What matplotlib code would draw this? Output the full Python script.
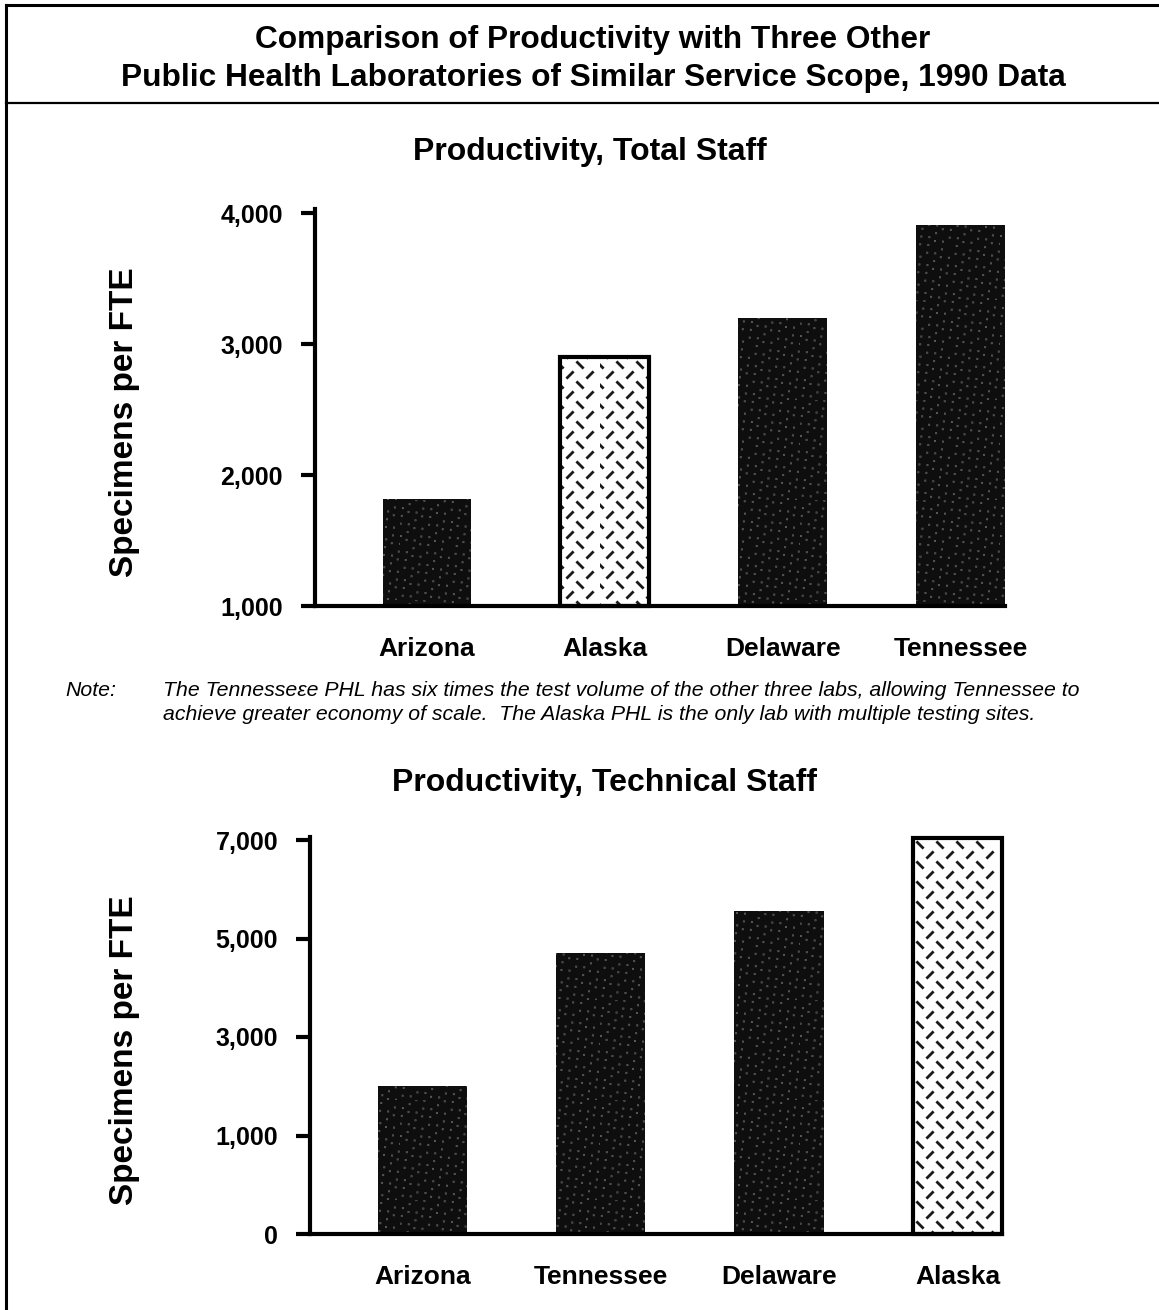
import numpy as np
import matplotlib
matplotlib.use("Agg")
import matplotlib.pyplot as plt
import matplotlib.hatch as mhatch
from matplotlib.path import Path
from matplotlib.lines import Line2D

plt.rcParams['font.family'] = ['Liberation Sans', 'DejaVu Sans']
plt.rcParams['hatch.linewidth'] = 1.2

# ---------------- data ----------------
title_lines = ["Comparison of Productivity with Three Other",
               "Public Health Laboratories of Similar Service Scope, 1990 Data"]

top_title = "Productivity, Total Staff"
top_states = ["Arizona", "Alaska", "Delaware", "Tennessee"]
top_values = [1820, 2900, 3200, 3910]
top_ticks = [1000, 2000, 3000, 4000]
top_ticklabels = ["1,000", "2,000", "3,000", "4,000"]

bot_title = "Productivity, Technical Staff"
bot_states = ["Arizona", "Tennessee", "Delaware", "Alaska"]
bot_values = [2000, 4700, 5550, 7050]
bot_ticks = [0, 1000, 3000, 5000, 7000]
bot_ticklabels = ["0", "1,000", "3,000", "5,000", "7,000"]

ylabel = "Specimens per FTE"
note_label = "Note:"
note_lines = ["The Tennesse\u03b5e PHL has six times the test volume of the other three labs, allowing Tennessee to",
              "achieve greater economy of scale.  The Alaska PHL is the only lab with multiple testing sites."]


# ---------------- custom hatch textures ----------------
class DashHatch(mhatch.HatchPatternBase):
    """Rows of short alternating '/' and '\\' dashes (triggered by 'O')."""
    ncol, nrow, half, thick = 5, 10, 0.03, 0.004

    def __init__(self, hatch, density):
        self.on = hatch.count('O') > 0
        self.num_vertices = self.ncol * self.nrow * 5 if self.on else 0

    def set_vertices_and_codes(self, vertices, codes):
        k = 0
        for r in range(self.nrow):
            cy = (r + 0.5) / self.nrow
            sgn = 1 if r % 2 == 0 else -1
            off = 0.0 if r % 2 == 0 else 0.5 / self.ncol
            for c in range(self.ncol):
                cx = ((c + 0.5) / self.ncol + off) % 1.0
                p0 = (cx - self.half, cy - sgn * self.half)
                p1 = (cx + self.half, cy + sgn * self.half)
                t = self.thick
                quad = [(p0[0] - t, p0[1] + sgn * t), (p1[0] - t, p1[1] + sgn * t),
                        (p1[0] + t, p1[1] - sgn * t), (p0[0] + t, p0[1] - sgn * t),
                        (p0[0] - t, p0[1] + sgn * t)]
                vertices[k:k + 5] = quad
                codes[k] = Path.MOVETO
                codes[k + 1:k + 4] = Path.LINETO
                codes[k + 4] = Path.CLOSEPOLY
                k += 5


class SpeckleHatch(mhatch.HatchPatternBase):
    """Fine quasi-uniform speckles (triggered by 'o')."""
    ndots, size = 150, 0.0015

    def __init__(self, hatch, density):
        self.on = hatch.count('o') > 0
        self.num_vertices = self.ndots * 5 if self.on else 0

    def set_vertices_and_codes(self, vertices, codes):
        n = np.arange(1, self.ndots + 1)
        xs = (0.5 + n * 0.7548776662466927) % 1.0
        ys = (0.5 + n * 0.5698402909980532) % 1.0
        s = self.size
        for i, (x, y) in enumerate(zip(xs, ys)):
            k = i * 5
            vertices[k:k + 5] = [(x - s, y - s), (x + s, y - s), (x + s, y + s),
                                 (x - s, y + s), (x - s, y - s)]
            codes[k] = Path.MOVETO
            codes[k + 1:k + 4] = Path.LINETO
            codes[k + 4] = Path.CLOSEPOLY


mhatch._hatch_types = [t for t in mhatch._hatch_types
                       if t not in (mhatch.SmallCircles, mhatch.LargeCircles)] + [DashHatch, SpeckleHatch]

# ---------------- figure ----------------
W, H = 1159, 1310
fig = plt.figure(figsize=(W / 100, H / 100), dpi=100)


def fx(px):
    return px / W


def fy(py):
    return 1 - py / H


fig.add_artist(Line2D([fx(6), fx(6)], [fy(5), 0], color='black', lw=2.2, transform=fig.transFigure))
fig.add_artist(Line2D([fx(6), 1], [fy(5), fy(5)], color='black', lw=2.2, transform=fig.transFigure))
fig.add_artist(Line2D([fx(6), 1], [fy(103), fy(103)], color='black', lw=1.6, transform=fig.transFigure))

fig.text(fx(593), fy(40), title_lines[0], ha='center', va='center', fontsize=22.8, fontweight='bold')
fig.text(fx(593), fy(78), title_lines[1], ha='center', va='center', fontsize=22.8, fontweight='bold')


def draw_panel(ax, states, values, ticks, ticklabels, base):
    x = np.arange(len(states))
    for i, (s, v) in enumerate(zip(states, values)):
        if s == "Alaska":
            ax.bar(x[i], v - base, bottom=base, width=0.5, facecolor='white',
                   edgecolor='#1a1a1a', linewidth=0, hatch='O', zorder=2, clip_on=False)
            ax.bar(x[i], v - base, bottom=base, width=0.5, facecolor='none',
                   edgecolor='black', linewidth=3, zorder=2.5, clip_on=False)
        else:
            ax.bar(x[i], v - base, bottom=base, width=0.5, facecolor='#0e0e0e',
                   edgecolor='#666666', linewidth=0, hatch='o', zorder=2, clip_on=False)
    ax.set_xticks(x)
    ax.set_xticklabels(states, fontsize=19, fontweight='bold')
    ax.tick_params(axis='x', length=0, pad=22)
    ax.set_yticks(ticks)
    ax.set_yticklabels(ticklabels, fontsize=18, fontweight='bold')
    ax.tick_params(axis='y', length=10, width=3, direction='out', pad=13)
    ax.spines['top'].set_visible(False)
    ax.spines['right'].set_visible(False)
    ax.spines['left'].set_linewidth(3)
    ax.spines['bottom'].set_linewidth(3)
    ax.spines['bottom'].set_zorder(3)
    ax.set_xlim(-0.63, 3.25)


# top panel (spine runs slightly above the 4,000 tick)
ax1 = fig.add_axes([fx(315), fy(606), fx(1005 - 315), (606 - 209) / H])
ax1.set_ylim(1000, 1000 + 3000 * (606 - 209) / (606 - 213))
draw_panel(ax1, top_states, top_values, top_ticks, top_ticklabels, 1000)
fig.text(fx(590), fy(152), top_title, ha='center', va='center', fontsize=23, fontweight='bold')
fig.text(fx(125), fy(422), ylabel, ha='center', va='center', rotation=90, fontsize=24, fontweight='bold')

# note
fig.text(fx(65), fy(690), note_label, ha='left', va='center', fontsize=15.3, style='italic')
fig.text(fx(163), fy(690), note_lines[0], ha='left', va='center', fontsize=15.3, style='italic')
fig.text(fx(163), fy(715), note_lines[1], ha='left', va='center', fontsize=15.3, style='italic')

# bottom panel: the tick labels are placed at even spacing
nodes = np.array(bot_ticks, dtype=float)
pos = np.arange(len(bot_ticks), dtype=float)


def fwd(v):
    v = np.asarray(v, dtype=float)
    return np.where(v < nodes[0], (v - nodes[0]) / (nodes[1] - nodes[0]),
                    np.where(v > nodes[-1], pos[-1] + (v - nodes[-1]) / (nodes[-1] - nodes[-2]),
                             np.interp(v, nodes, pos)))


def inv(p):
    p = np.asarray(p, dtype=float)
    return np.where(p < 0, p * (nodes[1] - nodes[0]),
                    np.where(p > pos[-1], nodes[-1] + (p - pos[-1]) * (nodes[-1] - nodes[-2]),
                             np.interp(p, pos, nodes)))


ax2 = fig.add_axes([fx(310), fy(1234), fx(1002 - 310), (1234 - 837) / H])
ax2.set_yscale('function', functions=(fwd, inv))
ax2.set_ylim(0, float(inv(pos[-1] * (1234 - 837) / (1234 - 840))))
draw_panel(ax2, bot_states, bot_values, bot_ticks, bot_ticklabels, 0)
fig.text(fx(604), fy(783), bot_title, ha='center', va='center', fontsize=23, fontweight='bold')
fig.text(fx(125), fy(1050), ylabel, ha='center', va='center', rotation=90, fontsize=24, fontweight='bold')

fig.savefig("out.png", dpi=100)
